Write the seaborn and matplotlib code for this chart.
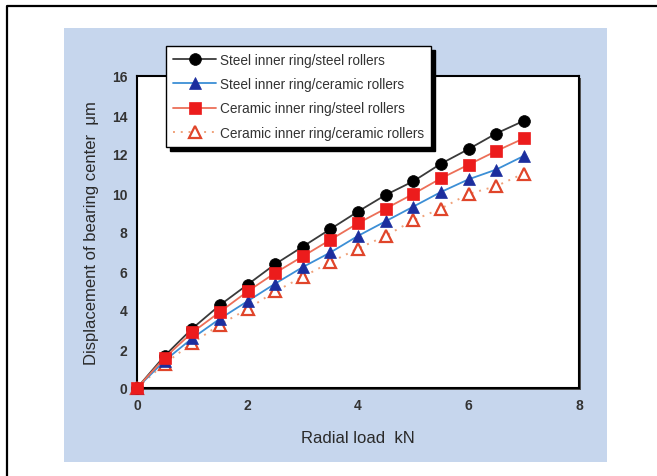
import matplotlib
matplotlib.use("Agg")
import matplotlib.pyplot as plt
import seaborn as sns
import pandas as pd
from matplotlib.patches import Rectangle
from matplotlib.lines import Line2D

# ---- data ----
radial_load = [0, 0.5, 1, 1.5, 2, 2.5, 3, 3.5, 4, 4.5, 5, 5.5, 6, 6.5, 7]
steel_steel = [0, 1.65, 3.05, 4.25, 5.3, 6.35, 7.25, 8.15, 9.05, 9.9, 10.6, 11.5, 12.25, 13.05, 13.7]
steel_ceramic = [0, 1.4, 2.55, 3.55, 4.45, 5.35, 6.2, 6.95, 7.8, 8.55, 9.3, 10.05, 10.7, 11.2, 11.9]
ceramic_steel = [0, 1.55, 2.85, 3.9, 4.95, 5.9, 6.75, 7.6, 8.45, 9.2, 9.95, 10.75, 11.45, 12.15, 12.8]
ceramic_ceramic = [0, 1.25, 2.3, 3.25, 4.05, 4.95, 5.7, 6.45, 7.15, 7.8, 8.6, 9.2, 9.95, 10.35, 11.0]
series_names = ["Steel inner ring/steel rollers",
                "Steel inner ring/ceramic rollers",
                "Ceramic inner ring/steel rollers",
                "Ceramic inner ring/ceramic rollers"]
x_ticks = [0, 2, 4, 6, 8]
y_ticks = [0, 2, 4, 6, 8, 10, 12, 14, 16]

sns.set_theme(style="white")
plt.rcParams['font.family'] = ['Liberation Sans', 'DejaVu Sans']

W, H = 657, 477
fig = plt.figure(figsize=(W / 100, H / 100), dpi=100)
fig.patch.set_facecolor("white")

def fx(px): return px / W
def fy(py): return 1 - py / H

# blue panel
fig.patches.append(Rectangle((fx(64), fy(463)), fx(607) - fx(64), fy(29) - fy(463),
                             transform=fig.transFigure, facecolor="#c6d6ed",
                             edgecolor="none", zorder=-3))
# outer border
fig.add_artist(Line2D([fx(7), fx(7), 1.0], [0.0, fy(7), fy(7)],
                      transform=fig.transFigure, color="black", lw=1.6))

ax_l, ax_r, ax_t, ax_b = 137, 579, 77, 389
# axes shadow
fig.patches.append(Rectangle((fx(ax_l + 2), fy(ax_b + 2)), fx(ax_r) - fx(ax_l), fy(ax_t) - fy(ax_b),
                             transform=fig.transFigure, facecolor="#555555",
                             edgecolor="none", zorder=-1))
ax = fig.add_axes([fx(ax_l), fy(ax_b), fx(ax_r) - fx(ax_l), fy(ax_t) - fy(ax_b)])
ax.set_facecolor("white")

# open triangles, dotted
sns.lineplot(x=radial_load, y=ceramic_ceramic, ax=ax, color="#f0a27a", lw=1.4,
             linestyle=(0, (1, 3)), marker="^", markersize=9, markerfacecolor="white",
             markeredgecolor="#e0452a", markeredgewidth=1.6, label=series_names[3],
             zorder=2, clip_on=False)
# blue triangles
sns.lineplot(x=radial_load, y=steel_ceramic, ax=ax, color="#3c8fd6", lw=1.3,
             marker="^", markersize=9, markerfacecolor="#1c2e9e",
             markeredgecolor="#1c2e9e", markeredgewidth=0.5, label=series_names[1],
             zorder=3, clip_on=False)
# black circles
sns.lineplot(x=radial_load, y=steel_steel, ax=ax, color="#3a3a3a", lw=1.3,
             marker="o", markersize=8.5, markerfacecolor="black",
             markeredgecolor="black", markeredgewidth=0.5, label=series_names[0],
             zorder=4, clip_on=False)
# red squares
sns.lineplot(x=radial_load, y=ceramic_steel, ax=ax, color="#ec6f58", lw=1.3,
             marker="s", markersize=8, markerfacecolor="#ec1c1c",
             markeredgecolor="#ec1c1c", markeredgewidth=0.5, label=series_names[2],
             zorder=5, clip_on=False)

ax.set_xlim(0, 8)
ax.set_ylim(0, 16)
ax.set_xticks(x_ticks)
ax.set_yticks(y_ticks)
ax.set_xticklabels([str(t) for t in x_ticks], fontsize=10, fontweight="bold", color="#333333")
ax.set_yticklabels([str(t) for t in y_ticks], fontsize=10, fontweight="bold", color="#333333")
ax.tick_params(axis="both", direction="in", length=3, width=0.8, color="#aaaaaa", pad=7)
for s in ax.spines.values():
    s.set_visible(True)
    s.set_color("black")
    s.set_linewidth(1.5)
    s.set_zorder(1)

ax.set_xlabel("Radial load  kN", fontsize=12, color="#2a2a2a", labelpad=13)
ax.set_ylabel("Displacement of bearing center  μm", fontsize=12, color="#2a2a2a", labelpad=9)

handles, labels = ax.get_legend_handles_labels()
order = [labels.index(n) for n in series_names]
leg = ax.legend([handles[i] for i in order], [labels[i] for i in order],
                loc="upper left", bbox_to_anchor=(fx(166), fy(47)),
                bbox_transform=fig.transFigure, borderaxespad=0,
                fontsize=9.8, handlelength=3.2, handletextpad=0.25, labelspacing=0.76,
                borderpad=0.5, frameon=True, fancybox=False, numpoints=1,
                shadow={"color": "black", "alpha": 1, "ox": 3, "oy": -3})
leg.get_frame().set_edgecolor("black")
leg.get_frame().set_linewidth(1.0)
leg.get_frame().set_facecolor("white")
leg.get_frame().set_alpha(1)
for t in leg.get_texts():
    t.set_color("#333333")
leg.set_zorder(10)

fig.savefig("out.png", dpi=100)
